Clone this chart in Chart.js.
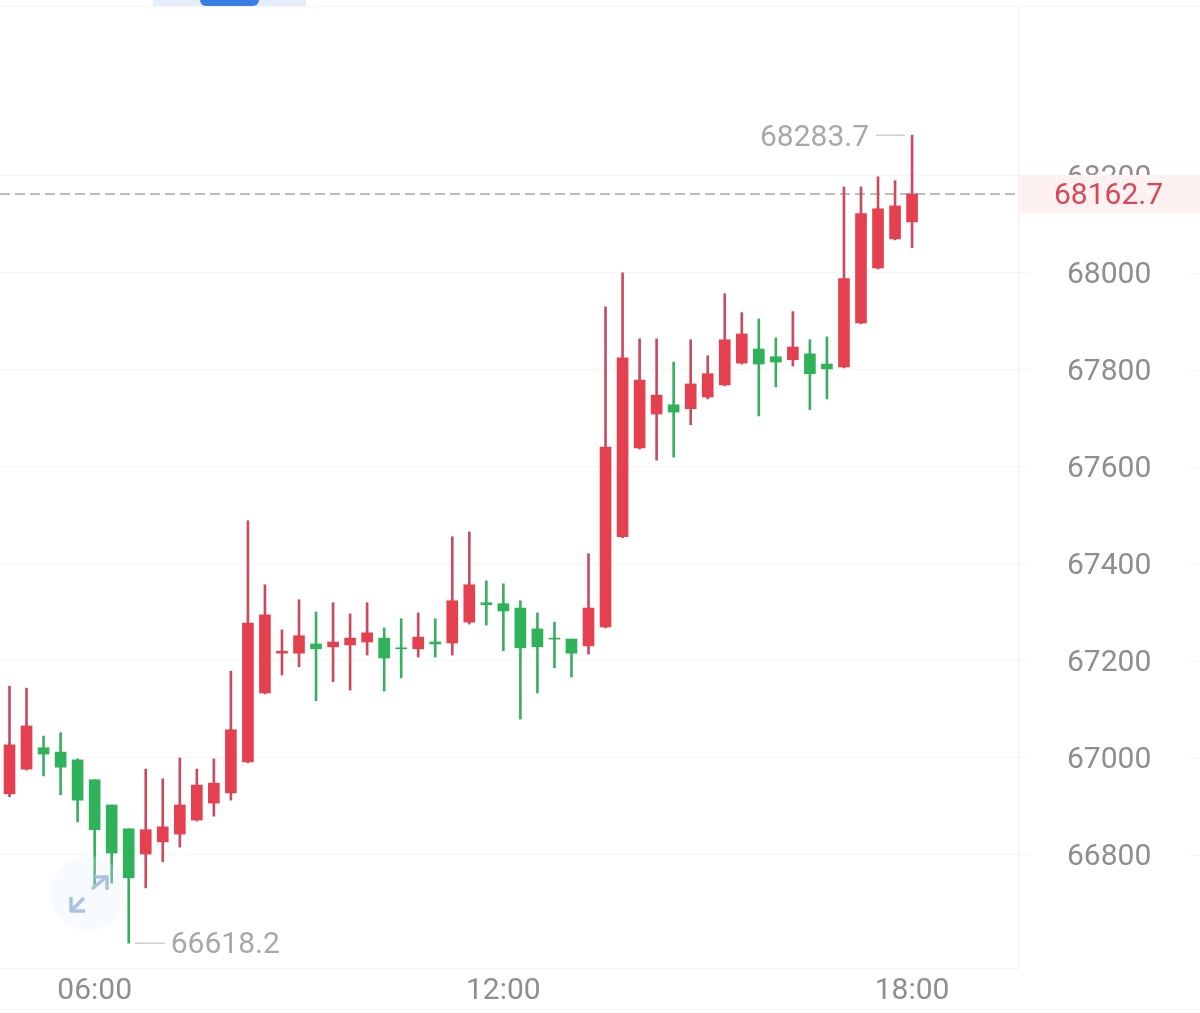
<!DOCTYPE html>
<html>
<head>
<meta charset="utf-8">
<style>
  html, body { margin: 0; padding: 0; background: #fff; }
  canvas { display: block; }
</style>
<script src="https://cdn.jsdelivr.net/npm/chart.js@4"></script>
</head>
<body>
<canvas id="chart" width="1200" height="1013"></canvas>
<script>
const times = ['04:45','05:00','05:15','05:30','05:45','06:00','06:15','06:30','06:45','07:00','07:15','07:30','07:45','08:00','08:15','08:30','08:45','09:00','09:15','09:30','09:45','10:00','10:15','10:30','10:45','11:00','11:15','11:30','11:45','12:00','12:15','12:30','12:45','13:00','13:15','13:30','13:45','14:00','14:15','14:30','14:45','15:00','15:15','15:30','15:45','16:00','16:15','16:30','16:45','17:00','17:15','17:30','17:45','18:00'];
const opens = [66926,66977,67021,67012,66996,66955,66903,66854,66802,66827,66843,66872,66907,66928,66992,67134,67216,67216,67235,67229,67233,67239,67247,67227,67225,67239,67237,67280,67320,67318,67309,67266,67247,67245,67231,67270,67456,67639,67709,67728,67720,67744,67769,67814,67843,67827,67821,67833,67812,67806,67897,68010,68070,68105];
const closes = [67027,67066,67008,66981,66913,66852,66804,66753,66852,66858,66903,66944,66948,67058,67278,67295,67220,67252,67225,67239,67247,67258,67206,67225,67249,67235,67324,67357,67316,67303,67227,67229,67245,67216,67309,67641,67825,67779,67748,67713,67771,67792,67862,67874,67812,67816,67847,67792,67802,67988,68122,68132,68138,68162.7];
const highs = [67148,67144,67045,67052,66998,66955,66903,66854,66977,66957,67000,66977,66998,67179,67489,67357,67264,67326,67301,67320,67297,67320,67268,67287,67299,67287,67456,67466,67365,67359,67324,67299,67280,67245,67421,67930,68000,67864,67864,67816,67862,67829,67957,67918,67905,67866,67920,67862,67868,68177,68177,68198,68190,68283.7];
const lows = [66920,66975,66963,66924,66868,66738,66742,66618.2,66732,66786,66816,66870,66880,66913,66990,67132,67171,67188,67118,67157,67140,67212,67138,67165,67208,67208,67212,67276,67274,67221,67080,67134,67186,67167,67214,67268,67454,67637,67614,67620,67687,67740,67767,67812,67705,67765,67808,67718,67740,67804,67895,68008,68068,68052];
const yTicks = [66800,67000,67200,67400,67600,67800,68000,68200];
const xTicks = ['06:00','12:00','18:00'];

const RED = '#e5404f';
const GREEN = '#2fb25a';
const RED_WICK = '#c94b60';
const GREEN_WICK = '#3aae62';
const FONT = 'Roboto';

function isUp(i) {
    return closes[i] >= opens[i];
}

// everything around the candles: last price, high/low notes, top tab, expand button
const extras = {
    id: 'extras',
    beforeDatasetsDraw(chart) {
        const c = chart.ctx, a = chart.chartArea, y = chart.scales.y;
        const last = closes[closes.length - 1];
        c.save();
        c.strokeStyle = '#f6f6f6';
        c.lineWidth = 1;
        c.beginPath();
        c.moveTo(0, 6.5);
        c.lineTo(1200, 6.5);
        c.moveTo(0, 1009.5);
        c.lineTo(1200, 1009.5);
        yTicks.forEach(v => {
            c.moveTo(1188, Math.round(y.getPixelForValue(v)) + 0.5);
            c.lineTo(1200, Math.round(y.getPixelForValue(v)) + 0.5);
        });
        c.stroke();
        c.strokeStyle = '#bdbdbd';
        c.lineWidth = 2;
        c.setLineDash([10, 5]);
        c.beginPath();
        c.moveTo(a.left, y.getPixelForValue(last));
        c.lineTo(a.right, y.getPixelForValue(last));
        c.stroke();
        c.restore();
    },
    afterDraw(chart) {
        const c = chart.ctx, x = chart.scales.x, y = chart.scales.y;
        const last = closes[closes.length - 1];
        const hi = Math.max(...highs), lo = Math.min(...lows);
        const hiX = x.getPixelForValue(highs.indexOf(hi)), hiY = y.getPixelForValue(hi);
        const loX = x.getPixelForValue(lows.indexOf(lo)), loY = y.getPixelForValue(lo);
        const lastY = y.getPixelForValue(last);
        c.save();

        // last price box, sits on top of the 68200 label
        c.fillStyle = '#fdf1f1';
        c.fillRect(1019, lastY - 19, 181, 38);
        c.font = '30px ' + FONT;
        c.textBaseline = 'middle';
        c.textAlign = 'left';
        c.fillStyle = '#d8475a';
        c.fillText(last.toFixed(1), 1054, lastY + 3);

        // high and low notes
        c.strokeStyle = '#cfcfcf';
        c.lineWidth = 1.5;
        c.beginPath();
        c.moveTo(hiX - 36, hiY);
        c.lineTo(hiX - 7, hiY);
        c.moveTo(loX + 6, loY);
        c.lineTo(loX + 36, loY);
        c.stroke();
        c.fillStyle = '#a8a8a8';
        c.textAlign = 'right';
        c.fillText(hi.toFixed(1), hiX - 43, hiY + 3);
        c.textAlign = 'left';
        c.fillText(lo.toFixed(1), loX + 42, loY + 2);

        // tab at the top
        c.fillStyle = '#e6edfb';
        c.fillRect(153, 0, 153, 6);
        c.fillStyle = '#3a7fe6';
        c.beginPath();
        c.roundRect(200, -6, 59, 12, 6);
        c.fill();

        // expand button
        c.fillStyle = 'rgba(225, 236, 250, 0.28)';
        c.beginPath();
        c.arc(88, 893, 37, 0, Math.PI * 2);
        c.fill();
        c.strokeStyle = '#a9c1e6';
        c.lineWidth = 3.5;
        c.lineJoin = 'round';
        c.beginPath();
        c.moveTo(92, 889);
        c.lineTo(105, 878);
        c.moveTo(95, 877);
        c.lineTo(107, 877);
        c.lineTo(107, 890);
        c.moveTo(84, 898);
        c.lineTo(72, 910);
        c.moveTo(71, 897);
        c.lineTo(71, 911);
        c.lineTo(85, 911);
        c.stroke();
        c.restore();
    }
};

new Chart(document.getElementById('chart'), {
    type: 'bar',
    data: {
        datasets: [
            {
                label: 'High-Low',
                data: times.map((t, i) => ({ x: i, y: [lows[i], highs[i]] })),
                backgroundColor: ctx => isUp(ctx.dataIndex) ? RED_WICK : GREEN_WICK,
                barThickness: 2,
                grouped: false,
                order: 2
            },
            {
                label: 'Open-Close',
                data: times.map((t, i) => ({ x: i, y: [opens[i], closes[i]] })),
                backgroundColor: ctx => isUp(ctx.dataIndex) ? RED : GREEN,
                barThickness: 11,
                grouped: false,
                order: 1
            }
        ]
    },
    plugins: [extras],
    options: {
        responsive: false,
        animation: false,
        layout: { padding: { top: 7 } },
        plugins: {
            legend: { display: false },
            tooltip: { enabled: false }
        },
        scales: {
            x: {
                type: 'linear',
                offset: false,
                min: -0.558,
                max: 59.22,
                afterBuildTicks(axis) {
                    axis.ticks = xTicks.map(t => ({ value: times.indexOf(t) }));
                },
                afterFit(axis) {
                    axis.height = 45;
                    axis.paddingLeft = 0;
                    axis.paddingRight = 0;
                },
                grid: { display: false, drawTicks: false },
                border: { display: true, color: '#f2f2f2', width: 1 },
                ticks: {
                    autoSkip: false,
                    maxRotation: 0,
                    padding: 5,
                    color: '#8e8e8e',
                    font: { family: FONT, size: 30 },
                    callback: v => times[v]
                }
            },
            y: {
                position: 'right',
                min: 66567,
                max: 68548,
                afterBuildTicks(axis) {
                    axis.ticks = yTicks.map(v => ({ value: v }));
                },
                afterFit(axis) {
                    axis.width = 182;
                    axis.paddingTop = 0;
                    axis.paddingBottom = 0;
                },
                grid: { color: '#f6f6f6', tickLength: 12 },
                border: { display: true, color: '#f2f2f2', width: 1 },
                ticks: {
                    padding: 37,
                    color: '#8e8e8e',
                    // blank first line with a short line height pushes the number down 3px
                    font: { family: FONT, size: 30, lineHeight: 0.2 },
                    callback: v => ['', String(v)]
                }
            }
        }
    }
});
</script>
</body>
</html>
